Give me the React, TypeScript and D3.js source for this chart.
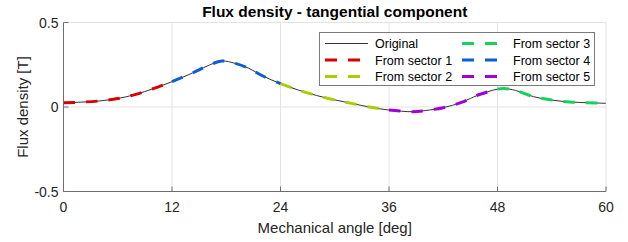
import React from 'react';
import * as d3 from 'd3';

// mechanical angle [deg] and tangential flux density [T]
const angles = [0, 2, 4, 6, 8, 10, 12, 14, 15, 16, 17.5, 19, 20.5, 22, 24, 26, 28, 30, 32, 34, 36, 38.7, 40, 42, 44, 46, 48, 48.7, 50, 52, 54, 56, 58, 60];
const flux = [0.025, 0.029, 0.036, 0.05, 0.075, 0.11, 0.15, 0.195, 0.22, 0.245, 0.272, 0.258, 0.229, 0.185, 0.138, 0.1, 0.068, 0.042, 0.02, -0.002, -0.018, -0.028, -0.021, -0.004, 0.027, 0.074, 0.106, 0.11, 0.098, 0.061, 0.041, 0.03, 0.025, 0.022];

// sectors: which 12-degree span each reconstruction covers
const sectorNames = ['From sector 1', 'From sector 4', 'From sector 2', 'From sector 5', 'From sector 3'];
const sectorStart = [0, 12, 24, 36, 48];
const sectorColors = ['#d90000', '#0a5fd8', '#a6cf00', '#a100d6', '#12d35e'];

const xTicks = [0, 12, 24, 36, 48, 60];
const yTicks = [-0.5, 0, 0.5];

// legend entries in column order
const legendLabels = ['Original', 'From sector 1', 'From sector 2', 'From sector 3', 'From sector 4', 'From sector 5'];
const legendColors = ['#333', '#d90000', '#a6cf00', '#12d35e', '#0a5fd8', '#a100d6'];

const W = 628;
const H = 242;
const margin = { top: 22.5, right: 22, bottom: 50.5, left: 63.5 };
const font = '"Liberation Sans", Arial, sans-serif';

export default function App() {
  const x = d3.scaleLinear().domain([0, 60]).range([margin.left, W - margin.right]);
  const y = d3.scaleLinear().domain([-0.5, 0.5]).range([H - margin.bottom, margin.top]);

  const pts = angles.map((a, i) => [a, flux[i]] as [number, number]);
  const line = d3.line<[number, number]>()
    .x(d => x(d[0]))
    .y(d => y(d[1]))
    .curve(d3.curveCatmullRom.alpha(0.5));

  const x0 = margin.left;
  const x1 = W - margin.right;
  const y0 = H - margin.bottom;
  const y1 = margin.top;

  const lg = { x: 319.5, y: 32.5, w: 275, h: 53 };
  const rowY = [43.5, 60, 76.5];
  const colX = [325, 462];
  const textX = [375, 513];

  return (
    <svg width={W} height={H} style={{ position: 'absolute', left: 0, top: 0, background: '#fff' }} fontFamily={font}>
      {/* grid */}
      {xTicks.map(t => (
        <line key={'gx' + t} x1={x(t)} x2={x(t)} y1={y0} y2={y1} stroke="#e3e3e3" strokeWidth={1} />
      ))}
      {yTicks.map(t => (
        <line key={'gy' + t} x1={x0} x2={x1} y1={y(t)} y2={y(t)} stroke="#e3e3e3" strokeWidth={1} />
      ))}

      {/* original curve */}
      <path d={line(pts) || ''} fill="none" stroke="#333" strokeWidth={1} />

      {/* sector reconstructions */}
      {sectorStart.map((s, i) => {
        const seg = pts.filter(p => p[0] >= s && p[0] <= s + 12);
        return (
          <path key={'s' + i} d={line(seg) || ''} fill="none" stroke={sectorColors[i]}
            strokeWidth={3} strokeDasharray="11.5 11" />
        );
      })}

      {/* axes */}
      <line x1={x0} x2={x1} y1={y0} y2={y0} stroke="#6e6e6e" strokeWidth={1} />
      <line x1={x0} x2={x0} y1={y0} y2={y1} stroke="#6e6e6e" strokeWidth={1} />
      {xTicks.map(t => (
        <g key={'tx' + t}>
          <line x1={x(t)} x2={x(t)} y1={y0} y2={y0 - 5} stroke="#6e6e6e" />
          <text x={x(t)} y={y0 + 20} textAnchor="middle" fontSize={14} fill="#262626">{t}</text>
        </g>
      ))}
      {yTicks.map(t => (
        <g key={'ty' + t}>
          <line x1={x0} x2={x0 + 5} y1={y(t)} y2={y(t)} stroke="#6e6e6e" />
          <text x={x0 - 5} y={y(t) + 5} textAnchor="end" fontSize={14} fill="#262626">{t}</text>
        </g>
      ))}

      {/* labels */}
      <text x={(x0 + x1) / 2} y={17} textAnchor="middle" fontSize={15.5} fontWeight="bold" fill="#000">
        Flux density - tangential component
      </text>
      <text x={(x0 + x1) / 2} y={233} textAnchor="middle" fontSize={15} fill="#262626">
        Mechanical angle [deg]
      </text>
      <text transform={`translate(28,${y(0)}) rotate(-90)`} textAnchor="middle" fontSize={15} fill="#262626">
        Flux density [T]
      </text>

      {/* legend */}
      <rect x={lg.x} y={lg.y} width={lg.w} height={lg.h} fill="#fff" stroke="#7a7a7a" strokeWidth={1} />
      {legendLabels.map((lab, i) => {
        const col = Math.floor(i / 3);
        const row = i % 3;
        const ly = rowY[row];
        return (
          <g key={lab}>
            <line x1={colX[col]} x2={colX[col] + 43} y1={ly} y2={ly} stroke={legendColors[i]}
              strokeWidth={i === 0 ? 1 : 3} strokeDasharray={i === 0 ? undefined : '12 11'} />
            <text x={textX[col]} y={ly + 4.5} fontSize={12.5} fill="#000">{lab}</text>
          </g>
        );
      })}
    </svg>
  );
}
